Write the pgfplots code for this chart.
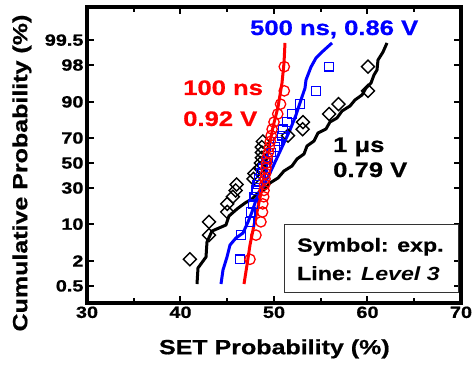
\documentclass[border=0pt]{standalone}
\usepackage{fontspec}
\setmainfont{Liberation Sans}[FakeStretch=1.22, BoldFeatures={FakeBold=0.7}]
\usepackage{pgfplots}
\pgfplotsset{compat=1.18}
\definecolor{myred}{RGB}{255,0,0}
\definecolor{myblue}{RGB}{0,0,255}
\begin{document}
\begin{tikzpicture}
\useasboundingbox (-87pt,-70pt) rectangle (385pt,303pt);
\begin{axis}[
  scale only axis, width=374pt, height=296pt,
  xmin=30, xmax=70, ymin=-2.935, ymax=3.270,
  xtick={30,40,50,60,70}, minor xtick={35,45,55,65},
  xticklabels={30,40,50,60,70},
  ytick={-2.5758,-2.0537,-1.2816,-0.5244,0,0.5244,1.2816,2.0537,2.5758},
  yticklabels={0.5,2,10,30,50,70,90,98,99.5},
  tick align=inside,
  major tick length=7pt, minor tick length=5pt,
  tick style={line width=2pt, black},
  axis line style={line width=3.2pt},
  tick label style={font=\fontsize{16.3}{16.3}\selectfont\bfseries},
  label style={font=\fontsize{20.5}{20.5}\selectfont\bfseries},
  xlabel={SET Probability (\%)},
  ylabel={Cumulative Probability (\%)},
  xlabel style={at={(axis description cs:0.501,-0.155)}, anchor=center},
  ylabel style={at={(axis description cs:-0.174,0.439)}, anchor=center},
  clip=false,
]
% 1 us, 0.79 V : experiment
\addplot[only marks, mark=square, mark size=4.6pt, mark options={rotate=45, line width=1.4pt, black, fill=none}] coordinates {
(41.0,-2.019) (43.05,-1.512) (43.05,-1.234) (45.0,-1.027) (45.0,-0.857)
(45.6,-0.709) (45.9,-0.575) (46.0,-0.451) (47.8,-0.333) (47.9,-0.219)
(48.5,-0.109) (48.6,0) (48.7,0.109) (48.7,0.219) (48.7,0.333)
(48.8,0.451) (51.5,0.575) (53.06,0.709) (53.1,0.857) (55.9,1.027)
(56.9,1.234) (60.05,1.512) (60.05,2.019)};
% 1 us : Level 3
\addplot[black, line width=3pt, line join=round] coordinates {
(41.765,-2.537) (41.872,-2.201) (42.727,-1.971) (42.834,-1.656) (43.369,-1.426)
(44.866,-1.300) (45.187,-1.111) (46.043,-0.964) (46.898,-0.839) (47.647,-0.755)
(48.289,-0.629) (49.037,-0.545) (49.572,-0.419) (50.428,-0.314) (51.070,-0.168)
(51.925,-0.063) (52.460,0.084) (53.209,0.189) (53.529,0.356) (54.278,0.461)
(54.706,0.629) (55.561,0.713) (55.989,0.860) (56.738,0.943) (57.273,1.090)
(58.128,1.195) (58.663,1.321) (59.412,1.426) (59.840,1.572) (60.374,1.677)
(60.695,1.845) (61.016,1.950) (61.123,2.159) (61.658,2.327) (62.086,2.516)};
% 500 ns, 0.86 V : experiment
\addplot[only marks, mark=square, mark size=4.3pt, mark options={line width=1.3pt, myblue, fill=none}] coordinates {
(46.36,-2.019) (46.47,-1.512) (47.4,-1.234) (47.5,-1.027) (47.75,-0.857)
(47.9,-0.709) (48.1,-0.575) (48.2,-0.451) (48.4,-0.333) (48.6,-0.219)
(48.8,-0.109) (49.1,0) (49.4,0.109) (49.7,0.219) (50.1,0.333)
(50.4,0.451) (50.85,0.575) (50.96,0.709) (51.4,0.857) (51.9,1.027)
(52.78,1.234) (54.49,1.512) (55.88,2.019)};
% 500 ns : Level 3
\addplot[myblue, line width=3pt, line join=round] coordinates {
(44.332,-2.537) (44.545,-2.243) (44.973,-1.971) (45.294,-1.719) (45.936,-1.572)
(46.684,-1.468) (47.219,-1.237) (47.647,-1.027) (48.075,-0.776) (48.503,-0.608)
(49.037,-0.419) (49.572,-0.210) (50.214,0.063) (50.963,0.377) (51.711,0.692)
(52.353,1.006) (52.888,1.321) (53.316,1.572) (53.422,1.740) (53.957,2.013)
(54.492,2.201) (55.134,2.327) (56.203,2.516)};
% 100 ns, 0.92 V : experiment
\addplot[only marks, mark=o, mark size=5.2pt, mark options={line width=1.3pt, myred}] coordinates {
(47.43,-2.019) (48.07,-1.512) (48.6,-1.234) (48.77,-1.027) (48.8,-0.857)
(48.9,-0.709) (48.93,-0.575) (49.0,-0.451) (49.04,-0.333) (49.1,-0.219)
(49.15,-0.109) (49.2,0) (49.25,0.109) (49.4,0.219) (49.5,0.333)
(49.6,0.451) (49.7,0.575) (49.8,0.709) (50.0,0.857) (50.4,1.027)
(50.7,1.234) (51.1,1.512) (51.1,2.019)};
% 100 ns : Level 3
\addplot[myred, line width=3pt, line join=round] coordinates {
(46.791,-2.537) (47.112,-2.138) (47.433,-1.719) (47.861,-1.300) (48.289,-0.922)
(48.610,-0.629) (48.930,-0.252) (49.358,0.231) (49.893,0.755) (50.428,1.174)
(50.856,1.677) (51.070,2.096) (51.176,2.516)};
% annotations
\node[anchor=base west, inner sep=0pt, text=myblue, font=\fontsize{21}{21}\selectfont\bfseries] at (axis cs:47.43,2.683) {500 ns, 0.86 V};
\node[anchor=base west, inner sep=0pt, text=myred, font=\fontsize{21}{21}\selectfont\bfseries] at (axis cs:40.27,1.426) {100 ns};
\node[anchor=base west, inner sep=0pt, text=myred, font=\fontsize{21}{21}\selectfont\bfseries] at (axis cs:40.27,0.776) {0.92 V};
\node[anchor=base west, inner sep=0pt, text=black, font=\fontsize{21}{21}\selectfont\bfseries] at (axis cs:56.31,0.231) {1 μs};
\node[anchor=base west, inner sep=0pt, text=black, font=\fontsize{21}{21}\selectfont\bfseries] at (axis cs:56.31,-0.294) {0.79 V};
% legend-like box
\node[draw=black!80, line width=1pt, minimum width=174pt, minimum height=68pt, inner sep=0pt, anchor=north west] at (axis cs:51.07,-1.279) {};
\node[anchor=base west, inner sep=0pt, font=\fontsize{19}{19}\selectfont\bfseries] at (axis cs:52.46,-1.859) {Symbol: exp.};
\node[anchor=base west, inner sep=0pt, font=\fontsize{19}{19}\selectfont\bfseries] at (axis cs:52.46,-2.453) {Line: \textit{Level 3}};
\end{axis}
\end{tikzpicture}
\end{document}
